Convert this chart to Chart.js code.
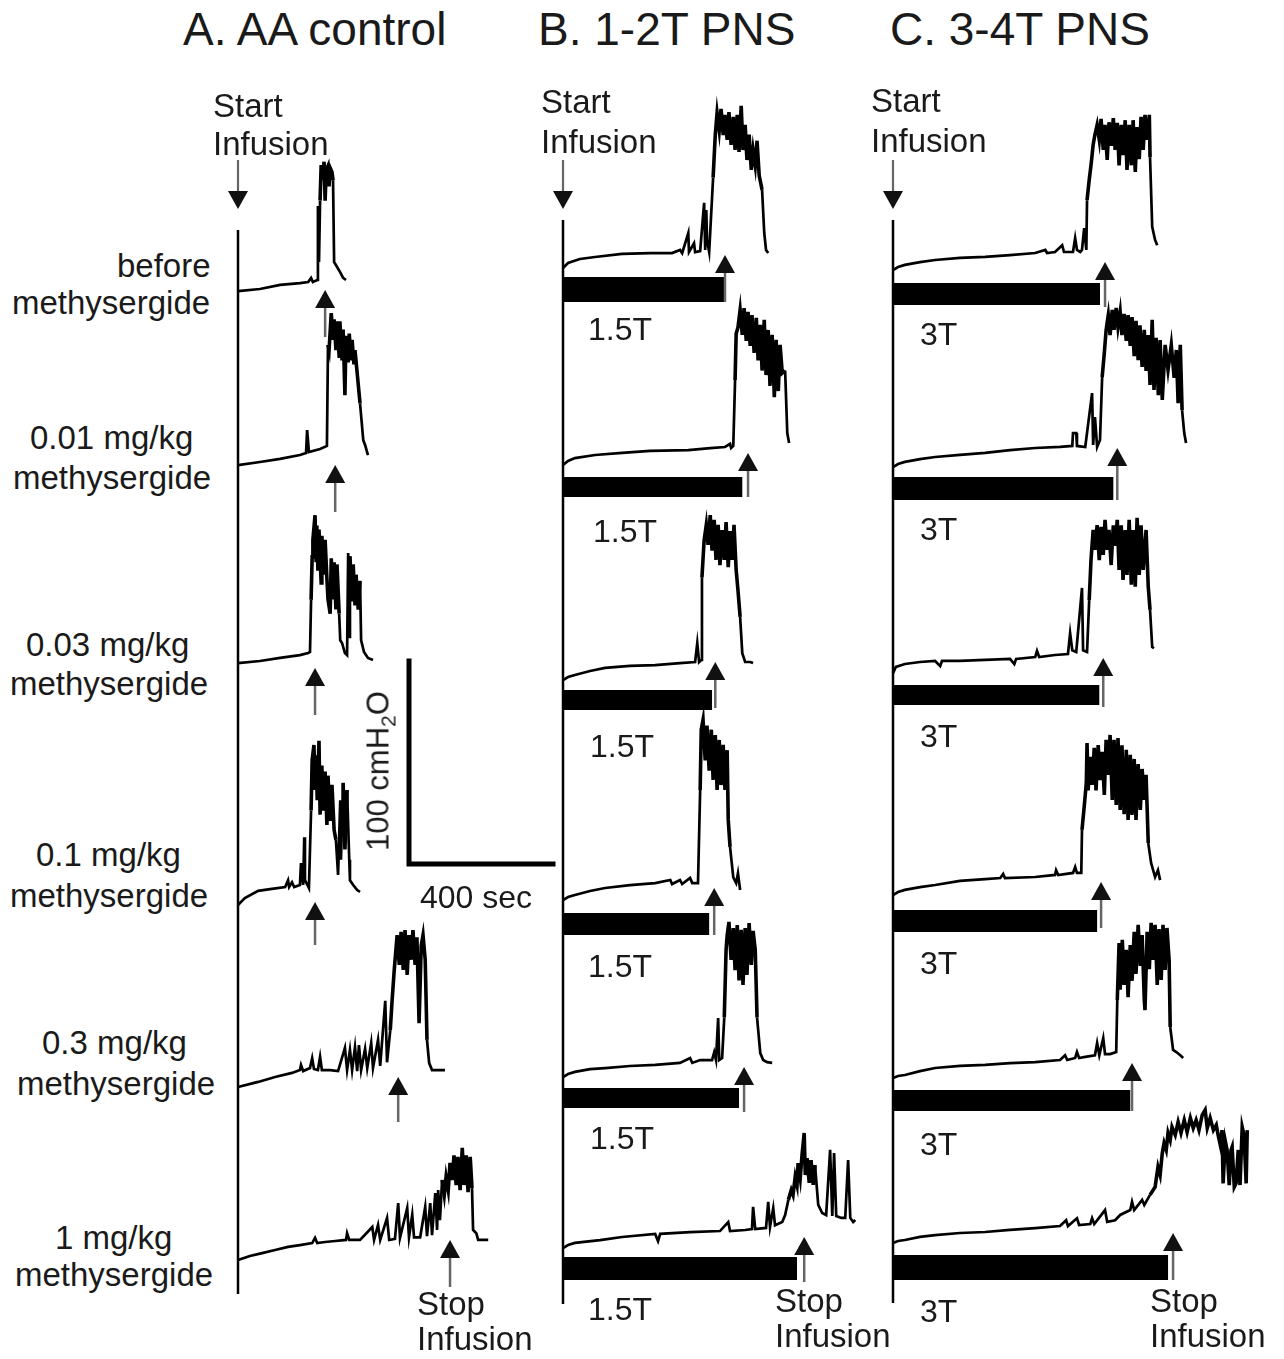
<!DOCTYPE html>
<html>
<head>
<meta charset="utf-8">
<title>Methysergide and PNS cystometrograms</title>
<script src="https://cdn.jsdelivr.net/npm/chart.js@4.4.1/dist/chart.umd.min.js"></script>
<style>
  html, body { margin: 0; padding: 0; background: #fff; }
  body { width: 1284px; height: 1359px; position: relative; overflow: hidden;
         font-family: "Liberation Sans", Arial, Helvetica, sans-serif; color: #1a1a1a; }
  canvas { position: absolute; }
  .lbl { position: absolute; white-space: nowrap; }
  .vlbl { position: absolute; white-space: nowrap; transform: translate(-50%, -50%) rotate(-90deg); }
  .vlbl sub { font-size: 21px; vertical-align: -7px; }
</style>
</head>
<body>
<canvas id="colA"></canvas>
<canvas id="colB"></canvas>
<canvas id="colC"></canvas>
<div id="labels"></div>
<script>
// ---------------- recorded bladder pressure traces ----------------
// time in seconds from the start of saline infusion, pressure in cmH2O

// A. AA control
const A1_sec = [0,61,117,172,195,203,208,220,222,225,228,231,236,239,242,245,250,253,256,261,264,267,272,284,292,300];
const A1_cmH2O = [2.9,3.9,5.9,6.8,7.3,9.3,7.3,8.3,44.4,17,47,64.4,57,66,47,62,64,54,63,61,57,17,15.6,12,9.3,8.3];
const A2_sec = [0,61,117,172,189,192,197,228,247,250,253,259,264,267,272,275,281,283,289,292,297,300,306,309,314,317,322,325,339,348,353,361];
const A2_cmH2O = [2.9,4.4,5.9,7.8,8.8,20,9.3,10.7,12.2,61.5,59,77,64,74,59,73,56,73,54,69,37,66,53,67,54,64,52,59,33,15,12.7,7.8];
const A3_sec = [0,61,117,172,195,200,203,206,208,214,217,219,222,225,231,233,239,242,247,250,256,259,264,267,272,275,281,284,289,297,303,306,309,311,317,320,325,328,334,339,342,350,361,375];
const A3_cmH2O = [2.9,3.9,5.4,6.8,7.8,8.3,33.7,54.7,63,75,53,70,48,68,42,65,46,63,44,34,27,54,34,52,29,51,27,14,12.7,7.8,6.8,56.6,15.6,55,33,51,31,46,29,43,14,8.3,5.4,4.4];
const A4_sec = [0,19,56,89,131,139,142,150,156,172,175,181,184,186,192,197,203,206,211,214,217,220,225,228,233,236,242,247,250,256,261,267,272,278,284,286,292,297,303,309,311,320,331,339];
const A4_cmH2O = [2.9,6.3,9.8,10.7,11.7,15,11.7,14,11.7,12.7,23.4,12.7,36,15,13,11.2,49,73.7,81,59,76,54,83,47,71,49,68,42,66,44,61.5,39.5,34.7,17.6,54,25,62.5,30,59,25,15,12.7,10.2,9.3];
const A5_sec = [0,56,103,150,172,175,181,200,206,211,222,228,233,256,278,297,303,311,317,325,331,336,342,353,359,370,375,389,395,409,414,423,428,434,442,448,453,459,464,470,475,481,486,492,497,503,509,514,520,525,531,539,556,575];
const A5_cmH2O = [2.9,5.4,7.8,9.8,11.2,13.7,10.7,12.2,17,11.7,11.2,17.6,11.2,11.2,10.7,22,11.2,21,11.2,22.4,10.7,23.4,11.2,21.5,12.2,24.4,12.2,25.9,13.2,45,15,30.7,45,60,77,62.5,78.6,60,79.5,57.6,77,65,79.5,62.5,76,34,72,77,65,25.9,14.6,11.2,11.2,11.2];
const A6_sec = [0,33,67,103,139,172,206,214,220,242,270,300,303,309,339,373,378,389,395,414,420,436,445,450,470,475,484,489,506,520,525,534,539,548,553,556,561,567,573,578,584,589,595,600,606,611,617,623,628,634,639,645,650,653,662,667,695];
const A6_cmH2O = [2.9,4.9,6.3,7.8,9.3,10.2,11.2,13.7,11.2,11.7,12.2,12.7,16,12.7,12.7,19,12.7,20,12.7,23.4,12.7,13.2,30.7,13.7,28.3,14,25,14,14,28.8,14.6,30.7,15,35.6,17.6,37,22.4,42,34.7,43.4,37,50.3,42,54,39.5,53.2,37,57.6,39.5,54,36,53.2,38,17.6,16,12.7,12.7];

// B. 1-2T PNS
const B1_sec = [0,14,47,89,164,242,303,325,331,348,350,364,367,381,392,395,398,400,406,417,423,428,434,439,445,450,456,461,467,473,478,484,489,495,500,506,511,517,523,528,534,539,545,553,559,564,570];
const B1_cmH2O = [2.9,5.4,7.3,8.3,9.8,10.2,10.2,11.7,10.2,20,10.7,15,10.7,11.2,34.7,11.7,31.2,16.6,10.7,47,68,78.6,70,80.5,67.8,77.6,65.4,79,63,76.6,60.5,77.6,59.5,82,60.5,72.7,55.6,68,50.8,60.5,53,65,48,41,20,11.7,10.2];
const B2_sec = [0,14,33,89,164,242,348,409,450,464,467,473,478,481,486,492,498,503,509,514,520,525,531,537,542,548,553,559,564,570,575,581,587,592,598,603,609,617,623,628];
const B2_cmH2O = [2.9,4.9,6.3,7.8,8.8,9.8,10.2,11.2,11.7,13.2,11.2,12.2,44.4,67,70,78.6,66.4,79.5,63.5,77.6,61,76,57.6,74.7,54,71.3,49,73.7,46.8,68.8,41.5,66.4,36,64,39,61.5,47.8,49,18.5,13.7];
const B3_sec = [0,14,33,75,117,186,256,325,367,373,378,384,386,392,398,403,409,414,420,425,431,436,442,448,453,459,464,470,475,481,486,492,498,506,520,528];
const B3_cmH2O = [2.9,4.4,5.4,7.3,8.8,9.8,10.2,11.2,11.7,21,11.7,12.7,53,71,78.6,68.8,83.4,66,81,61.5,78.6,59,76,61.5,80,58,75.6,61.5,78.6,56.6,46.8,33.7,16,11.7,11.7,11.2];
const B4_sec = [0,14,33,75,117,186,256,298,303,325,331,353,359,375,381,384,389,395,400,406,412,417,423,428,434,439,445,450,456,459,464,473,481,486,492];
const B4_cmH2O = [2.9,4.4,5.4,7.3,8.8,10.2,11.2,12.7,10.7,12.7,10.7,13.7,11.2,11.2,56.6,86,90.8,71,88,66,86,61.5,83.4,56.6,81,59,78.6,56.6,76,42,28.8,14,11.2,16,7.8];
const B5_sec = [0,14,33,75,117,186,256,325,353,359,381,414,420,425,431,434,442,448,453,456,461,467,473,478,484,489,495,500,506,511,517,523,528,534,539,548,556,567,581];
const B5_cmH2O = [2.9,4.4,5.4,6.8,7.3,8.3,8.8,9.8,12.2,9.8,11.2,11.2,15,11.2,31.7,11.2,12.2,32,65,72,78.6,60,75.6,55,77,50,74.7,47.8,75.6,52.7,78,57.6,74.2,65,32,14.6,11.2,10.2,9.8];
const B6_sec = [0,14,33,103,164,256,264,270,353,436,459,464,506,525,528,534,564,570,575,584,589,609,617,626,634,639,645,650,653,659,664,670,673,678,684,689,695,700,709,720,731,742,748,753,759,773,784,792,798,806,812];
const B6_cmH2O = [2.9,4.4,5.4,6.8,8.3,9.8,6.3,9.8,10.7,11.2,15.6,11.2,11.7,12.2,23,12.2,12.7,25.4,13.2,22.4,14,15.6,19,26.4,31.2,28.8,37.6,33.7,44.4,37,48.3,59,38.5,46.8,34.7,45.8,33.7,43.4,24,20,19,50.8,18.5,49.3,18.5,17.6,17.6,45.8,17.6,15.6,16.6];

// C. 3-4T PNS
const C1_sec = [0,14,33,75,117,186,256,325,395,423,428,450,470,475,500,506,511,520,525,531,537,539,545,550,556,561,567,573,578,584,589,595,600,606,612,617,623,628,634,639,645,650,656,662,667,673,678,684,689,695,700,706,712,714,720,728,734];
const C1_cmH2O = [2.9,4.4,5.4,6.8,7.8,8.8,9.3,10.2,11.2,12.7,11.2,11.7,15,11.7,11.7,18.5,12.7,11.7,12.7,23.4,12.7,37,46.8,54,64,69,73.7,66.4,76.6,61.5,73.7,56.6,75,63.5,77,61.5,74.7,54,73.7,59,76,51.7,73.7,54,76,50.8,72.7,57,77.6,61.5,78.6,66.4,78.6,58,24,17.6,15];
const C2_sec = [0,14,33,75,117,186,256,325,395,464,498,500,509,511,534,553,556,561,567,575,581,587,592,598,603,609,614,620,625,631,636,642,648,653,659,664,670,675,681,686,692,698,703,709,714,720,725,731,737,742,748,756,764,773,781,787,792,798,803,809,814];
const C2_cmH2O = [2.9,4.4,5.4,6.8,7.8,8.8,9.8,11.2,12.2,12.7,13.2,19.5,19.5,13.2,12.7,39,13.7,27.3,12.7,16.1,46.8,58.6,69.8,77,67.3,79.5,69.8,80.5,71.3,78.6,67.3,77.6,64.4,77,62,76,57,74.2,55,72,51.7,69.8,49.8,67.3,43,74.7,40.5,65.9,38,64.9,35.6,62.5,50.3,62.5,46.4,60,34,62.5,30.7,19.5,14.6];
const C3_sec = [0,8,33,75,117,131,136,186,256,325,337,342,395,400,406,450,486,492,498,509,525,528,539,545,550,556,561,567,573,578,584,589,595,600,606,612,617,623,628,634,639,645,650,656,662,667,673,678,684,689,695,703,709,714,720,725];
const C3_cmH2O = [2.9,5.9,7.3,8.3,8.8,6.3,8.8,8.8,9.3,9.8,7.3,9.8,10.7,13.7,10.7,11.7,12.2,22.4,14,13.2,44.4,14,13.2,38.5,58,72.7,63,75.1,58,74.2,60.5,77.6,63,72.7,55.6,75,65,77.6,53.2,75,48.3,72.7,50.8,77.6,46,72.7,45,78.6,50.8,75,53.2,72.7,45,33.7,15.6,15];
const C4_sec = [0,14,33,75,117,186,256,298,306,311,395,450,453,459,500,506,511,523,525,531,537,539,542,548,553,559,564,570,575,581,587,592,598,603,609,614,620,625,631,636,642,648,653,659,664,670,675,681,687,692,698,703,709,717,728,736,742];
const C4_cmH2O = [2.9,4.4,5.4,6.8,7.8,9.8,10.7,11.2,13.2,11.2,11.7,12.7,15,12.7,13.7,16.6,13.7,13.7,34.7,45.8,57.6,77,54,70.3,56.6,74.7,54,76,59,72.7,51.7,78.6,61.5,81,49.3,78.6,46.8,79.5,44.4,76,42.4,73.7,39.5,71.3,42,69.3,39.5,66.8,44.4,64.4,49.3,61.5,28.3,18.5,11.7,15,10.2];
const C5_sec = [0,14,33,75,117,186,256,325,395,464,478,484,506,511,517,534,561,567,573,584,589,603,620,623,628,631,637,642,648,653,659,664,670,675,681,687,692,698,700,706,712,717,723,728,734,739,745,750,756,761,767,770,778,787,798,806];
const C5_cmH2O = [2.9,3.9,4.4,6.3,7.8,8.8,9.3,10.2,10.7,11.7,14,11.7,12.7,15.6,12.7,13.2,14,20,14,22.4,14.6,14.6,15.6,41,68.8,46,70.3,48.3,65.4,42.4,67.8,50.3,74.2,53.7,77.6,57.6,72.7,41,36,74.2,56,78.6,60.5,77.6,48.3,75.6,50.8,77.6,55.6,76.1,60.5,27.8,16.6,15.6,14,12.7];
const C6_sec = [0,14,33,75,117,186,256,325,395,464,481,486,511,517,548,553,559,589,595,617,631,659,664,670,692,698,714,728,736,742,748,753,759,764,770,775,784,792,800,809,817,826,834,842,850,859,867,873,881,890,898,903,909,914,917,923,928,934,939,942,948,953,959,964,970,975,981,984];
const C6_cmH2O = [2.9,3.9,4.4,5.9,6.8,7.8,8.3,9.3,10.2,11.2,14,11.2,15,11.7,12.2,15,12.2,19,13.2,14,16.6,19,23,19,24,21.5,26.4,30.2,40,36,46.8,51.7,48.3,56.6,53.2,59.5,55.6,62,56.6,62.9,57,63.9,59,62.9,58,65.4,67.8,59,63.9,58,60.5,55.6,50.8,58,32,52.7,48.3,31.2,48.3,49.8,30.2,32,48.3,31.2,59.5,55.6,32,58];

// infusion stop (arrow) and end of nerve stimulation (bar), seconds
const stopA = [242, 270, 214, 214, 445, 589];
const stopB = [450, 514, 423, 420, 503, 670];
const stimEndB = [450, 498, 414, 406, 489, 650];
const stopC = [589, 623, 584, 578, 664, 778];
const stimEndC = [575, 612, 573, 567, 659, 764];

// text
const columnTitles = ["A. AA control", "B. 1-2T PNS", "C. 3-4T PNS"];
const doseLabels = [["before", "methysergide"], ["0.01 mg/kg", "methysergide"], ["0.03 mg/kg", "methysergide"],
                    ["0.1 mg/kg", "methysergide"], ["0.3 mg/kg", "methysergide"], ["1 mg/kg", "methysergide"]];
const stimLabelB = "1.5T";
const stimLabelC = "3T";
const scaleBarPressure = 100;   // cmH2O
const scaleBarTime = 400;       // sec

// ---------------- layout ----------------
const PX_PER_SEC = 0.36;
const PX_PER_CMH2O = 2.05;
const X_MAX_SEC = 1000;
const CANVAS_TOP = 90, CANVAS_H = 1265, PAD_L = 14, PAD_R = 10;
const CONTRACTION_LEVEL = 25;   // cmH2O; segments above this are part of a voiding burst

const columns = {
  A: { canvas: 'colA', origin: 238, lineTop: 230, lineBottom: 1294,
       zero: [297, 471, 669, 911, 1093, 1266],
       tip: [-7, -6, -1, -9, -16, -26], tail: [40, 41, 46, 34, 29, 21],
       traces: [[A1_sec, A1_cmH2O], [A2_sec, A2_cmH2O], [A3_sec, A3_cmH2O], [A4_sec, A4_cmH2O], [A5_sec, A5_cmH2O], [A6_sec, A6_cmH2O]],
       stop: stopA, stim: null, scaleBar: { x: 409, y: 864 } },
  B: { canvas: 'colB', origin: 563, lineTop: 220, lineBottom: 1304,
       zero: [274, 471, 686, 906, 1083, 1254],
       tip: [-19, -18, -24, -18, -16, -17], tail: [28, 26, 22, 29, 29, 28],
       barTop: [3, 6, 4, 7, 5, 3], barBottom: [28, 26, 24, 29, 25, 26],
       traces: [[B1_sec, B1_cmH2O], [B2_sec, B2_cmH2O], [B3_sec, B3_cmH2O], [B4_sec, B4_cmH2O], [B5_sec, B5_cmH2O], [B6_sec, B6_cmH2O]],
       stop: stopB, stim: stimEndB },
  C: { canvas: 'colC', origin: 893, lineTop: 220, lineBottom: 1303,
       zero: [276, 473, 679, 901, 1084, 1249],
       tip: [-14, -25, -21, -19, -21, -16], tail: [31, 27, 28, 27, 27, 31],
       barTop: [7, 4, 6, 9, 6, 6], barBottom: [29, 27, 26, 31, 27, 31],
       traces: [[C1_sec, C1_cmH2O], [C2_sec, C2_cmH2O], [C3_sec, C3_cmH2O], [C4_sec, C4_cmH2O], [C5_sec, C5_cmH2O], [C6_sec, C6_cmH2O]],
       stop: stopC, stim: stimEndC }
};

function upArrow(ctx, x, tipY, endY) {
  ctx.strokeStyle = '#666';
  ctx.lineWidth = 2.5;
  ctx.beginPath(); ctx.moveTo(x, tipY + 14); ctx.lineTo(x, endY); ctx.stroke();
  ctx.fillStyle = '#111';
  ctx.beginPath(); ctx.moveTo(x, tipY); ctx.lineTo(x - 10, tipY + 18); ctx.lineTo(x + 10, tipY + 18);
  ctx.closePath(); ctx.fill();
}

function downArrow(ctx, x, topY, tipY) {
  ctx.strokeStyle = '#666';
  ctx.lineWidth = 2.2;
  ctx.beginPath(); ctx.moveTo(x, topY); ctx.lineTo(x, tipY - 14); ctx.stroke();
  ctx.fillStyle = '#111';
  ctx.beginPath(); ctx.moveTo(x, tipY); ctx.lineTo(x - 10, tipY - 18); ctx.lineTo(x + 10, tipY - 18);
  ctx.closePath(); ctx.fill();
}

function buildColumn(col) {
  const canvas = document.getElementById(col.canvas);
  canvas.width = PAD_L + X_MAX_SEC * PX_PER_SEC + PAD_R;
  canvas.height = CANVAS_H;
  canvas.style.left = (col.origin - PAD_L) + 'px';
  canvas.style.top = CANVAS_TOP + 'px';

  const scales = { x: { type: 'linear', display: false, bounds: 'data', min: 0, max: X_MAX_SEC } };
  const datasets = [];
  col.traces.forEach(([sec, p], i) => {
    const z = col.zero[i] - CANVAS_TOP;
    scales['y' + i] = { type: 'linear', display: false, bounds: 'data',
                        min: -(CANVAS_H - z) / PX_PER_CMH2O, max: z / PX_PER_CMH2O };
    datasets.push({
      data: sec.map((t, k) => ({ x: t, y: p[k] })),
      xAxisID: 'x', yAxisID: 'y' + i,
      borderColor: '#000', borderWidth: 2.7, pointRadius: 0, tension: 0,
      fill: false, clip: false, borderJoinStyle: 'miter',
      segment: {
        // bursts of rapid contractions print as a dense band
        borderWidth: s => (s.p0.parsed.y > CONTRACTION_LEVEL && s.p1.parsed.y > CONTRACTION_LEVEL) ? 3.6 : 2.7
      }
    });
  });

  const marks = {
    id: 'infusionMarks',
    afterDatasetsDraw(chart) {
      const ctx = chart.ctx;
      const xs = chart.scales.x;
      const x0 = xs.getPixelForValue(0);
      ctx.save();
      // infusion start axis
      ctx.strokeStyle = '#000'; ctx.lineWidth = 2.5;
      ctx.beginPath();
      ctx.moveTo(x0, col.lineTop - CANVAS_TOP);
      ctx.lineTo(x0, col.lineBottom - CANVAS_TOP);
      ctx.stroke();
      downArrow(ctx, x0, 160 - CANVAS_TOP, 209 - CANVAS_TOP);

      col.traces.forEach((_, i) => {
        const yZero = chart.scales['y' + i].getPixelForValue(0);
        if (col.stim) {
          const xb = xs.getPixelForValue(col.stim[i]);
          ctx.fillStyle = '#000';
          ctx.fillRect(x0, yZero + col.barTop[i], xb - x0, col.barBottom[i] - col.barTop[i]);
        }
        const xa = xs.getPixelForValue(col.stop[i]);
        upArrow(ctx, xa, yZero + col.tip[i], yZero + col.tail[i]);
      });

      if (col.scaleBar) {
        const ys = chart.scales.y0;
        const lenX = xs.getPixelForValue(scaleBarTime) - xs.getPixelForValue(0);
        const lenY = ys.getPixelForValue(0) - ys.getPixelForValue(scaleBarPressure);
        const cx = col.scaleBar.x - (col.origin - PAD_L);
        const cy = col.scaleBar.y - CANVAS_TOP;
        ctx.strokeStyle = '#000'; ctx.lineWidth = 5; ctx.lineCap = 'square'; ctx.lineJoin = 'miter';
        ctx.beginPath();
        ctx.moveTo(cx, cy - lenY + 2);
        ctx.lineTo(cx, cy);
        ctx.lineTo(cx + lenX, cy);
        ctx.stroke();
      }
      ctx.restore();
    }
  };

  return new Chart(canvas, {
    type: 'line',
    data: { datasets },
    options: {
      responsive: false, animation: false, devicePixelRatio: 1, events: [],
      layout: { padding: { left: PAD_L, right: PAD_R, top: 0, bottom: 0 } },
      scales,
      plugins: { legend: { display: false }, tooltip: { enabled: false }, title: { display: false } }
    },
    plugins: [marks]
  });
}

buildColumn(columns.A);
buildColumn(columns.B);
buildColumn(columns.C);

// ---------------- text ----------------
const holder = document.getElementById('labels');
function addText(text, left, baseline, size) {
  const d = document.createElement('div');
  d.className = 'lbl';
  d.textContent = text;
  d.style.fontSize = size + 'px';
  d.style.lineHeight = size + 'px';
  d.style.left = left + 'px';
  d.style.top = (baseline - 0.8465 * size) + 'px';
  holder.appendChild(d);
}

[[183, 45], [538, 45], [890, 45]].forEach(([x, b], i) => addText(columnTitles[i], x, b, 46));

[[213, 117, 155], [541, 113, 153], [871, 112, 152]].forEach(([x, b1, b2]) => {
  addText("Start", x, b1, 33);
  addText("Infusion", x, b2, 33);
});
[[417, 1315, 1350], [775, 1312, 1347], [1150, 1312, 1347]].forEach(([x, b1, b2]) => {
  addText("Stop", x, b1, 33);
  addText("Infusion", x, b2, 33);
});

const doseLabelPos = [[[117, 277], [12, 314]], [[30, 449], [13, 489]], [[26, 656], [10, 695]],
                      [[36, 866], [10, 907]], [[42, 1054], [17, 1095]], [[55, 1249], [15, 1286]]];
doseLabels.forEach((lines, i) => lines.forEach((s, j) => addText(s, doseLabelPos[i][j][0], doseLabelPos[i][j][1], 33)));

const stimLabelPosB = [[588, 340], [593, 542], [590, 757], [588, 977], [590, 1149], [588, 1320]];
const stimLabelPosC = [[920, 345], [920, 540], [920, 747], [920, 974], [920, 1155], [920, 1322]];
stimLabelPosB.forEach(([x, b]) => addText(stimLabelB, x, b, 32));
stimLabelPosC.forEach(([x, b]) => addText(stimLabelC, x, b, 32));

addText(scaleBarTime + " sec", 420, 908, 32);
const v = document.createElement('div');
v.className = 'vlbl';
v.style.fontSize = '31px';
v.style.lineHeight = '31px';
v.style.left = '383px';
v.style.top = '771px';
v.innerHTML = scaleBarPressure + ' cmH<sub>2</sub>O';
holder.appendChild(v);
</script>
</body>
</html>
